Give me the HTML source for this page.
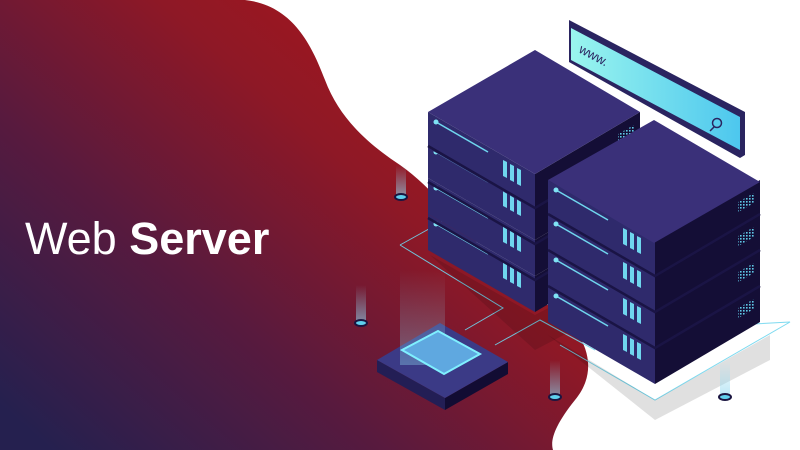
<!DOCTYPE html>
<html><head><meta charset="utf-8"><style>
html,body{margin:0;padding:0;width:800px;height:450px;overflow:hidden;background:#fff}
svg{display:block}
</style></head><body>
<svg width="800" height="450" viewBox="0 0 800 450" xmlns="http://www.w3.org/2000/svg">
<defs>
<linearGradient id="bg" x1="0" y1="0.9" x2="0.8" y2="0.2">
<stop offset="0" stop-color="#25204f"/>
<stop offset="0.4" stop-color="#581a3e"/>
<stop offset="0.75" stop-color="#8e1826"/>
<stop offset="1" stop-color="#a3161d"/>
</linearGradient>
<linearGradient id="bar" x1="0" y1="0" x2="1" y2="0">
<stop offset="0" stop-color="#9af5ee"/><stop offset="1" stop-color="#4dc7ee"/>
</linearGradient>
<linearGradient id="beam" x1="0" y1="0" x2="0" y2="1">
<stop offset="0" stop-color="#8fd8f0" stop-opacity="0"/><stop offset="1" stop-color="#8fd8f0" stop-opacity="0.6"/>
</linearGradient>
<pattern id="dots" width="3" height="3" patternUnits="userSpaceOnUse">
<rect width="1.6" height="1.6" fill="#5fc8e6"/>
</pattern>
<g id="unitL">
<polygon points="0,0 107,62 107,98 0,36" fill="#2f2a6c"/>
<polygon points="107,62 212,0 212,36 107,98" fill="#140e36"/>
<line x1="8" y1="10" x2="60" y2="40" stroke="#6fd6ee" stroke-width="1.5"/>
<circle cx="8" cy="10" r="2.5" fill="#7fe2f4"/>
<polygon points="75,48 79,50 79,66 75,64" fill="#6fd6ee"/>
<polygon points="82,52 86,54 86,70 82,68" fill="#6fd6ee"/>
<polygon points="89,56 93,58 93,74 89,72" fill="#6fd6ee"/>
<polygon points="190,22 206,13 206,23 190,32" fill="url(#dots)"/>
</g>
<g id="divs" fill="none" stroke="#1a1445" stroke-width="2.5">
<polyline points="0,34 107,96 212,34"/>
<polyline points="0,70 107,132 212,70"/>
<polyline points="0,106 107,168 212,106"/>
</g>
</defs>
<rect width="800" height="450" fill="#fff"/>
<path d="M0,0 L245,0 C290,5 310,40 325,80 C340,120 370,145 400,165 C450,200 480,260 540,300 C590,330 600,370 575,400 C555,425 550,440 553,450 L0,450 Z" fill="url(#bg)"/>
<text x="25" y="254" font-family="Liberation Sans, sans-serif" font-size="45" fill="#fff"><tspan font-weight="300">Web </tspan><tspan font-weight="bold">Server</tspan></text>
<g stroke="#6fd6ee" stroke-width="1" fill="none" opacity="0.9">
<polyline points="400,245 445,220"/>
<polyline points="400,245 503,308 465,330"/>
<polyline points="495,345 540,320 595,350"/>
<polyline points="640,330 790,322 655,400 560,345"/>
</g>
<polygon points="430,255 535,315 650,255 650,290 535,350" fill="#000" opacity="0.12"/>
<polygon points="548,335 655,400 770,335 770,360 655,420" fill="#000" opacity="0.12"/>
<polygon points="569,20 745,112 745,155 740,158 569,62" fill="#2a2460"/>
<polygon points="571,28 740,117 740,150 571,60" fill="url(#bar)"/>
<text x="578" y="52" font-family="Liberation Sans, sans-serif" font-size="13" fill="#2a2460" transform="rotate(28 578 52)">www.</text>
<circle cx="717" cy="123" r="4.5" fill="none" stroke="#2a2460" stroke-width="1.5"/>
<line x1="714" y1="127" x2="710" y2="131" stroke="#2a2460" stroke-width="1.5"/>
<use href="#unitL" x="428" y="214"/>
<use href="#unitL" x="428" y="178"/>
<use href="#unitL" x="428" y="142"/>
<use href="#unitL" x="428" y="112"/>
<use href="#divs" x="428" y="112"/>
<polygon points="535,50 640,112 535,174 428,112" fill="#3a3079"/>
<use href="#unitL" x="548" y="286"/>
<use href="#unitL" x="548" y="250"/>
<use href="#unitL" x="548" y="214"/>
<use href="#unitL" x="548" y="180"/>
<use href="#divs" x="548" y="180"/>
<polygon points="654,120 760,182 654,243 548,180" fill="#3a3079"/>
<polygon points="377,360 445,398 445,410 377,372" fill="#231e55"/>
<polygon points="445,398 508,362 508,374 445,410" fill="#120c33"/>
<polygon points="377,360 440,323 508,362 445,398" fill="#3b3a86"/>
<rect x="400" y="270" width="45" height="95" fill="url(#beam)" opacity="0.6"/>
<polygon points="402,350 438,331 480,354 444,374" fill="#5fa8e0" stroke="#7ff0ff" stroke-width="2"/>
<g>
<rect x="396" y="165" width="10" height="30" fill="url(#beam)"/><ellipse cx="401" cy="197" rx="6" ry="3" fill="#5fd0ee" stroke="#1b1540" stroke-width="2"/>
<rect x="356" y="285" width="10" height="38" fill="url(#beam)"/><ellipse cx="361" cy="323" rx="6" ry="3" fill="#5fd0ee" stroke="#1b1540" stroke-width="2"/>
<rect x="550" y="360" width="10" height="36" fill="url(#beam)"/><ellipse cx="555" cy="397" rx="6" ry="3" fill="#5fd0ee" stroke="#1b1540" stroke-width="2"/>
<rect x="720" y="360" width="10" height="36" fill="url(#beam)"/><ellipse cx="725" cy="397" rx="6" ry="3" fill="#5fd0ee" stroke="#1b1540" stroke-width="2"/>
</g>
</svg>
</body></html>
